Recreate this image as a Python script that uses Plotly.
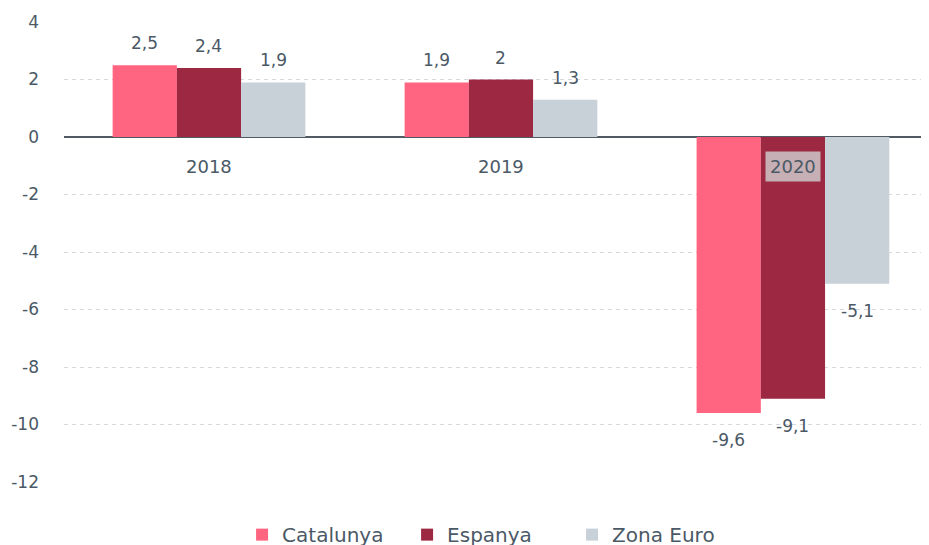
import plotly.graph_objects as go

years = ["2018", "2019", "2020"]
series_names = ["Catalunya", "Espanya", "Zona Euro"]
catalunya = [2.5, 1.9, -9.6]
espanya = [2.4, 2.0, -9.1]
zona_euro = [1.9, 1.3, -5.1]
label_catalunya = ["2,5", "1,9", "-9,6"]
label_espanya = ["2,4", "2", "-9,1"]
label_zona = ["1,9", "1,3", "-5,1"]
y_ticks = [4, 2, 0, -2, -4, -6, -8, -10, -12]

colors = ["#FF6480", "#9C2842", "#C8D0D8"]
text_col = "#4B5966"
FONT = "DejaVu Sans"

x_idx = list(range(len(years)))
values = [catalunya, espanya, zona_euro]
labels = [label_catalunya, label_espanya, label_zona]

fig = go.Figure()
for name, vals, col in zip(series_names, values, colors):
    fig.add_trace(go.Bar(x=x_idx, y=vals, name=name, marker=dict(color=col, line=dict(width=0))))

bw = 0.66 / 3
annotations = []
for s, (vals, labs) in enumerate(zip(values, labels)):
    for i, (v, lab) in enumerate(zip(vals, labs)):
        xc = i + (s - 1) * bw
        annotations.append(dict(
            x=xc, y=v, xref="x", yref="y", text=lab, showarrow=False,
            yshift=22 if v >= 0 else -27,
            font=dict(family=FONT, size=17, color=text_col)))

for i, yr in enumerate(years):
    annotations.append(dict(
        x=i, y=0, xref="x", yref="y", text=yr, showarrow=False, yshift=-29,
        font=dict(family=FONT, size=18, color=text_col),
        bgcolor="rgba(210,210,210,0.8)" if yr == "2020" else "rgba(0,0,0,0)",
        borderpad=4))

fig.update_layout(
    width=929, height=545,
    margin=dict(l=56, r=8, t=14, b=71, autoexpand=False),
    paper_bgcolor="white", plot_bgcolor="white",
    barmode="group", bargap=0.34, bargroupgap=0,
    font=dict(family=FONT, size=17, color=text_col),
    showlegend=True,
    legend=dict(orientation="h", x=0.492, xanchor="center", y=-0.072, yanchor="top",
                font=dict(family=FONT, size=20, color=text_col), itemwidth=30,
                entrywidth=120, entrywidthmode="pixels",
                traceorder="normal"),
    annotations=annotations,
    xaxis=dict(range=[-0.4966, 2.466], showticklabels=False, showgrid=False,
               zeroline=False, showline=False, ticks=""),
    yaxis=dict(range=[-12, 4], tickvals=y_ticks, ticktext=[str(t) for t in y_ticks],
               showgrid=True, gridcolor="#D3D9DF", griddash="4px,4px", gridwidth=1,
               zeroline=True, zerolinecolor="#4F5A64", zerolinewidth=2,
               showline=False, ticks="", ticklabelstandoff=24,
               tickfont=dict(family=FONT, size=17, color=text_col)),
)

fig.write_html("out.html")
